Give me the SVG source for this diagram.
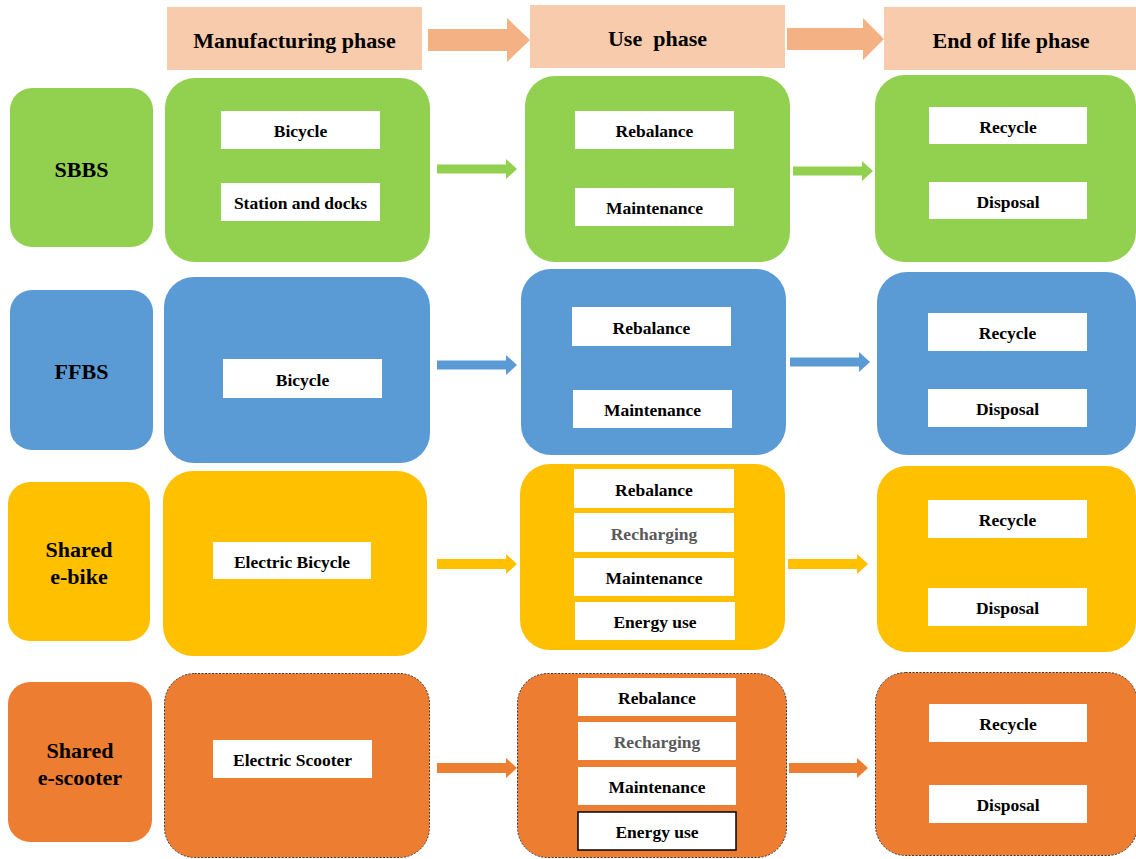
<svg xmlns="http://www.w3.org/2000/svg" width="1136" height="859" viewBox="0 0 1136 859">
<style>
text{font-family:"Liberation Serif","Times New Roman",serif;font-weight:bold;fill:#000;text-anchor:middle;dominant-baseline:central}
.hd{fill:#F8CBAD}
.harr{fill:#F4B183}
.h{font-size:22px}
.lbl{font-size:22px}
.it{font-size:17.5px}
.w{fill:#fff}
.g{fill:#92D050}
.b{fill:#5B9BD5}
.y{fill:#FFC000}
.o{fill:#ED7D31}
.dash{stroke:#3a3a3a;stroke-width:1;stroke-dasharray:2 1.5}
.grey{fill:#595959}
</style>
<rect width="1136" height="859" fill="#fff"/>

<g id="header-manufacturing"><rect class="hd" x="167" y="7" width="255" height="63"/><text class="h" x="294.5" y="40">Manufacturing phase</text></g>
<g id="header-use"><rect class="hd" x="530" y="5" width="255" height="63"/><text class="h" x="657.5" y="38" xml:space="preserve">Use  phase</text></g>
<g id="header-eol"><rect class="hd" x="884" y="7" width="252" height="63"/><text class="h" x="1011" y="40">End of life phase</text></g>

<g id="row-sbbs">
<g id="sbbs-label"><rect class="g" x="10" y="88" width="143" height="159" rx="22"/><text class="lbl" x="81.5" y="169">SBBS</text></g>
<g id="sbbs-manufacturing"><rect class="g" x="165" y="78" width="265" height="184" rx="30"/>
<rect class="w" x="221" y="111" width="159" height="38"/><text class="it" x="300.5" y="131">Bicycle</text>
<rect class="w" x="221" y="183" width="159" height="38"/><text class="it" x="300.5" y="203">Station and docks</text></g>
<g id="sbbs-use"><rect class="g" x="525" y="76" width="265" height="186" rx="30"/>
<rect class="w" x="575" y="111" width="159" height="38"/><text class="it" x="654.5" y="131">Rebalance</text>
<rect class="w" x="575" y="188" width="159" height="38"/><text class="it" x="654.5" y="208">Maintenance</text></g>
<g id="sbbs-eol"><rect class="g" x="875" y="75" width="261" height="187" rx="30"/>
<rect class="w" x="929" y="107" width="158" height="37"/><text class="it" x="1008" y="126.5">Recycle</text>
<rect class="w" x="929" y="182" width="158" height="37"/><text class="it" x="1008" y="201.5">Disposal</text></g>
</g>

<g id="row-ffbs">
<g id="ffbs-label"><rect class="b" x="10" y="290" width="143" height="160" rx="22"/><text class="lbl" x="81.5" y="371">FFBS</text></g>
<g id="ffbs-manufacturing"><rect class="b" x="164" y="277" width="266" height="186" rx="30"/>
<rect class="w" x="223" y="359" width="159" height="39"/><text class="it" x="302.5" y="379.5">Bicycle</text></g>
<g id="ffbs-use"><rect class="b" x="521" y="269" width="265" height="186" rx="30"/>
<rect class="w" x="572" y="307" width="159" height="39"/><text class="it" x="651.5" y="327.5">Rebalance</text>
<rect class="w" x="573" y="390" width="159" height="38"/><text class="it" x="652.5" y="410">Maintenance</text></g>
<g id="ffbs-eol"><rect class="b" x="877" y="272" width="259" height="183" rx="30"/>
<rect class="w" x="928" y="313" width="159" height="38"/><text class="it" x="1007.5" y="333">Recycle</text>
<rect class="w" x="928" y="389" width="159" height="38"/><text class="it" x="1007.5" y="409">Disposal</text></g>
</g>

<g id="row-ebike">
<g id="ebike-label"><rect class="y" x="8" y="482" width="142" height="159" rx="22"/><text class="lbl" x="79" y="549">Shared</text><text class="lbl" x="79" y="576">e-bike</text></g>
<g id="ebike-manufacturing"><rect class="y" x="163" y="471" width="264" height="185" rx="30"/>
<rect class="w" x="213" y="542" width="158" height="37"/><text class="it" x="292" y="561.5">Electric Bicycle</text></g>
<g id="ebike-use"><rect class="y" x="520" y="464" width="265" height="186" rx="30"/>
<rect class="w" x="574" y="469" width="160" height="39"/><text class="it" x="654" y="489.5">Rebalance</text>
<rect class="w" x="574" y="513" width="160" height="39"/><text class="it grey" x="654" y="533.5">Recharging</text>
<rect class="w" x="574" y="558" width="160" height="38"/><text class="it" x="654" y="578">Maintenance</text>
<rect class="w" x="575" y="602" width="160" height="38"/><text class="it" x="655" y="622">Energy use</text></g>
<g id="ebike-eol"><rect class="y" x="877" y="466" width="259" height="186" rx="30"/>
<rect class="w" x="928" y="500" width="159" height="38"/><text class="it" x="1007.5" y="520">Recycle</text>
<rect class="w" x="928" y="588" width="159" height="38"/><text class="it" x="1007.5" y="608">Disposal</text></g>
</g>

<g id="row-escooter">
<g id="escooter-label"><rect class="o" x="8" y="682" width="144" height="160" rx="22"/><text class="lbl" x="80" y="750">Shared</text><text class="lbl" x="80" y="777">e-scooter</text></g>
<g id="escooter-manufacturing"><rect class="o dash" x="164.5" y="673.5" width="265" height="184" rx="30"/>
<rect class="w" x="213" y="740" width="159" height="38"/><text class="it" x="292.5" y="760">Electric Scooter</text></g>
<g id="escooter-use"><rect class="o dash" x="517.5" y="673.5" width="269" height="184" rx="30"/>
<rect class="w" x="578" y="678" width="158" height="38"/><text class="it" x="657" y="698">Rebalance</text>
<rect class="w" x="578" y="722" width="158" height="38"/><text class="it grey" x="657" y="742">Recharging</text>
<rect class="w" x="578" y="767" width="158" height="38"/><text class="it" x="657" y="787">Maintenance</text>
<rect class="w" x="578" y="812" width="158" height="38" stroke="#000" stroke-width="1.5"/><text class="it" x="657" y="832">Energy use</text></g>
<g id="escooter-eol"><rect class="o dash" x="875.5" y="672.5" width="262" height="183" rx="30"/>
<rect class="w" x="929" y="704" width="158" height="38"/><text class="it" x="1008" y="724">Recycle</text>
<rect class="w" x="929" y="785" width="158" height="38"/><text class="it" x="1008" y="805">Disposal</text></g>
</g>

<g id="connectors">
<polygon class="harr" points="428,29 507,29 507,18 530,40 507,62 507,51 428,51"/>
<polygon class="harr" points="787,28 863,28 863,18 884,39 863,60 863,50 787,50"/>

<polygon class="g" points="437,164.5 506,164.5 506,159 517,169 506,179 506,173.5 437,173.5"/>
<polygon class="g" points="793,166.5 862,166.5 862,161 873,171 862,181 862,175.5 793,175.5"/>

<polygon class="b" points="437,360.5 506,360.5 506,355 517,365 506,375 506,369.5 437,369.5"/>
<polygon class="b" points="790,357.5 859,357.5 859,352 870,362 859,372 859,366.5 790,366.5"/>

<polygon class="y" points="437,559 506,559 506,554 517,564 506,574 506,569 437,569"/>
<polygon class="y" points="788,559 857,559 857,554 868,564 857,574 857,569 788,569"/>

<polygon class="o" points="437,763 506,763 506,758 517,768 506,778 506,773 437,773"/>
<polygon class="o" points="789,763 857,763 857,758 868,768 857,778 857,773 789,773"/>
</g>
</svg>
